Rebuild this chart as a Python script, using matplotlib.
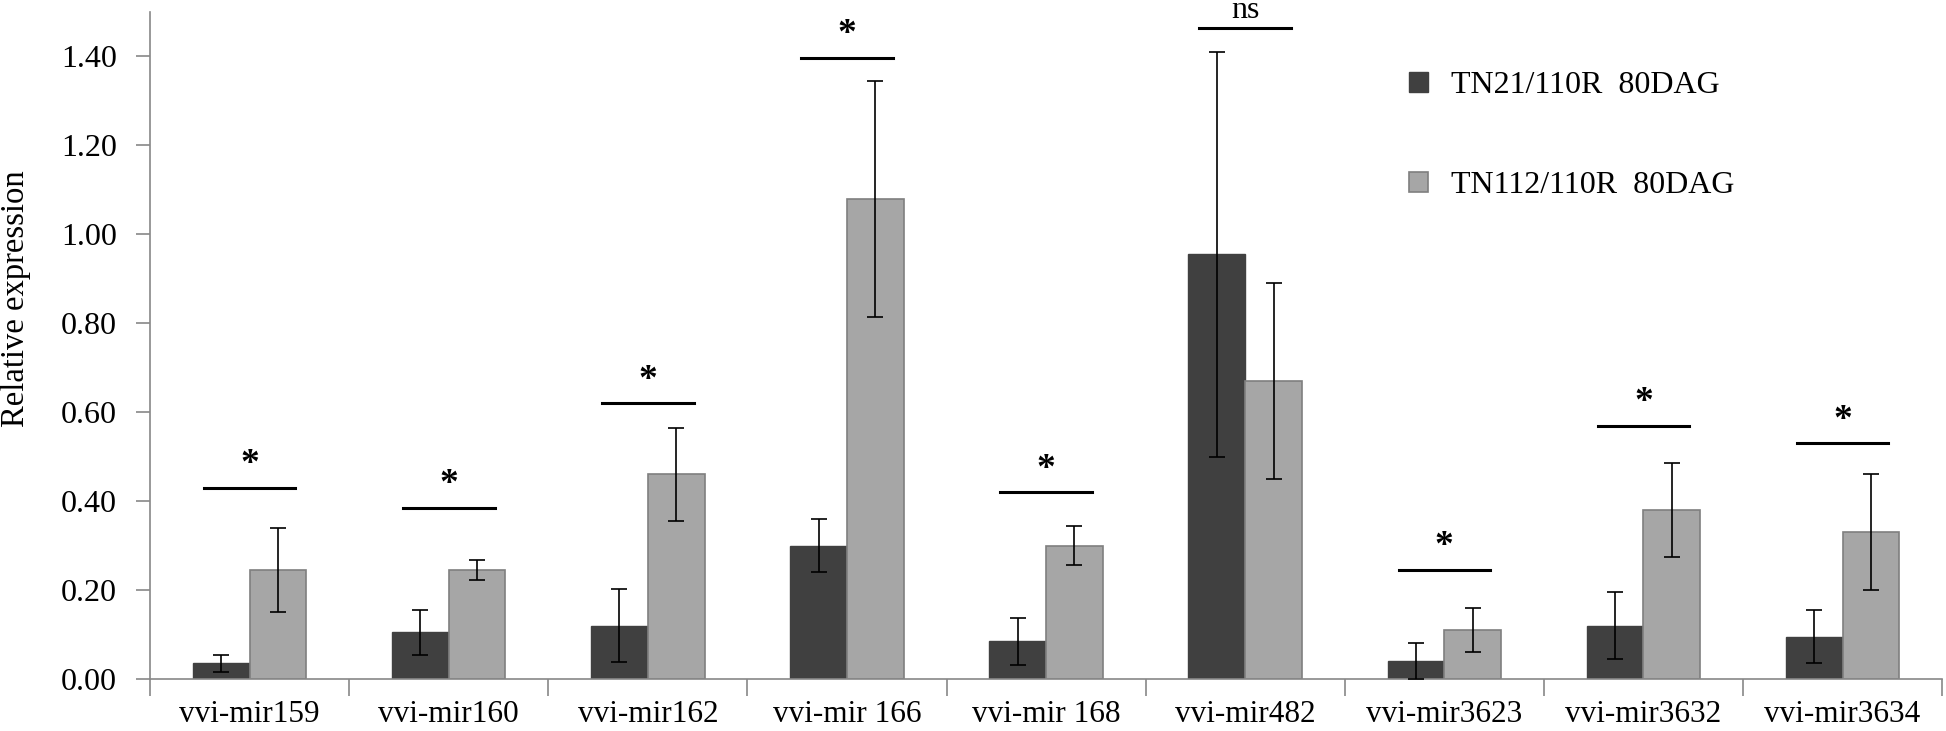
import numpy as np
import matplotlib
matplotlib.use("Agg")
import matplotlib.pyplot as plt

plt.rcParams['font.family'] = ['Liberation Serif', 'DejaVu Serif']

mirnas = ['vvi-mir159', 'vvi-mir160', 'vvi-mir162', 'vvi-mir 166', 'vvi-mir 168',
          'vvi-mir482', 'vvi-mir3623', 'vvi-mir3632', 'vvi-mir3634']
tn21 = [0.035, 0.105, 0.12, 0.30, 0.085, 0.955, 0.04, 0.12, 0.095]
tn21_err = [0.02, 0.05, 0.082, 0.06, 0.053, 0.455, 0.04, 0.075, 0.06]
tn112 = [0.245, 0.245, 0.46, 1.08, 0.30, 0.67, 0.11, 0.38, 0.33]
tn112_err = [0.095, 0.022, 0.105, 0.265, 0.043, 0.22, 0.05, 0.105, 0.13]
sig_y = [0.43, 0.385, 0.62, 1.397, 0.42, 1.464, 0.246, 0.57, 0.53]
sig_lab = ['*', '*', '*', '*', '*', 'ns', '*', '*', '*']

x = np.arange(len(mirnas))
w = 0.285

fig = plt.figure(figsize=(19.46, 7.31), dpi=100)
ax = fig.add_axes([0.0771, 0.0711, 0.9209, 0.9125])

ax.bar(x - w/2, tn21, w, color='#404040', edgecolor='#404040', linewidth=1,
       label='TN21/110R  80DAG', zorder=2)
ax.bar(x + w/2, tn112, w, color='#a6a6a6', edgecolor='#7f7f7f', linewidth=1.2,
       label='TN112/110R  80DAG', zorder=2)
ax.errorbar(x - w/2, tn21, yerr=tn21_err, fmt='none', ecolor='black',
            elinewidth=1.2, capsize=5.5, capthick=1.2, zorder=3)
ax.errorbar(x + w/2, tn112, yerr=tn112_err, fmt='none', ecolor='black',
            elinewidth=1.2, capsize=5.5, capthick=1.2, zorder=3)

for xi, yi, lab in zip(x, sig_y, sig_lab):
    ax.plot([xi - 0.23, xi + 0.23], [yi, yi], color='black', lw=2.2, zorder=3)
    if lab == '*':
        ax.text(xi, yi + 0.012, lab, ha='center', va='bottom', fontsize=27,
                fontweight='bold')
    else:
        ax.text(xi, yi + 0.006, lab, ha='center', va='bottom', fontsize=23)

ax.set_xlim(-0.5, len(mirnas) - 0.5)
ax.set_ylim(0, 1.5)
ax.set_yticks(np.arange(0, 1.41, 0.2))
ax.set_yticklabels(['%.2f' % v for v in np.arange(0, 1.41, 0.2)])
ax.set_xticks(x)
ax.set_xticklabels(mirnas)
ax.set_xticks(np.arange(-0.5, len(mirnas), 1), minor=True)
ax.tick_params(axis='x', which='major', length=0, labelsize=22.5, pad=15)
ax.tick_params(axis='x', which='minor', length=12, color='#888888', width=1.2)
ax.tick_params(axis='y', length=10, color='#888888', width=1.2, labelsize=23, pad=14)
ax.set_ylabel('Relative expression', fontsize=23.5, va='center')
ax.yaxis.set_label_coords(-0.0748, 0.57)

for s in ['top', 'right']:
    ax.spines[s].set_visible(False)
for s in ['left', 'bottom']:
    ax.spines[s].set_color('#888888')
    ax.spines[s].set_linewidth(1.2)

ax.legend(loc='upper left', bbox_to_anchor=(0.6866, 0.954), frameon=False,
          fontsize=23, handlelength=0.6, handleheight=0.6, labelspacing=2.22,
          handletextpad=0.7)

fig.savefig('out.png', dpi=100)
